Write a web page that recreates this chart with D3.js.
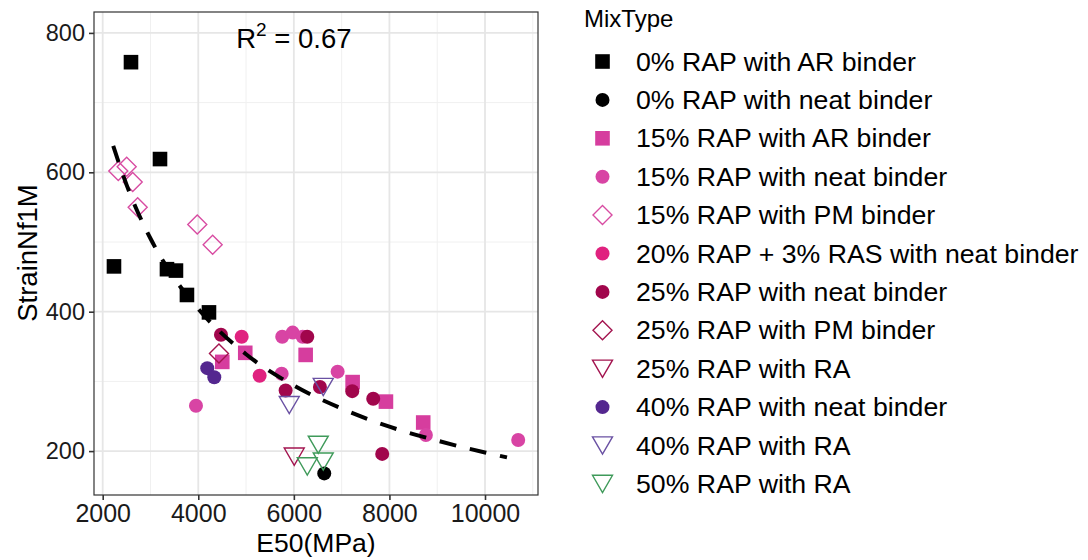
<!DOCTYPE html>
<html>
<head>
<meta charset="utf-8">
<script src="https://cdn.jsdelivr.net/npm/d3@7"></script>
<style>
  body { margin: 0; background: #fff; }
  text { font-family: "Liberation Sans", Arial, sans-serif; }
</style>
</head>
<body>
<svg id="chart" width="1088" height="560"></svg>
<script>
// ---- Data ----
const mixTypes = [
  "0% RAP with AR binder",
  "0% RAP with neat binder",
  "15% RAP with AR binder",
  "15% RAP with neat binder",
  "15% RAP with PM binder",
  "20% RAP + 3% RAS with neat binder",
  "25% RAP with neat binder",
  "25% RAP with PM binder",
  "25% RAP with RA",
  "40% RAP with neat binder",
  "40% RAP with RA",
  "50% RAP with RA"
];
const mixColors = ["#000000", "#000000", "#d63d9e", "#d844a4", "#d84ca2", "#e0227f",
                   "#a1064c", "#a3144f", "#a3144f", "#54278f", "#6a51a3", "#3f9a5a"];
const mixShapes = ["square", "circle", "square", "circle", "diamond", "circle",
                   "circle", "diamond", "triangle", "circle", "triangle", "triangle"];

const e50_0AR     = [2592, 3199, 2236, 3345, 3533, 3763, 4224];
const nf_0AR      = [758, 619, 465, 461, 459, 424, 399];
const e50_0neat   = [6636];
const nf_0neat    = [168];
const e50_15AR    = [4502, 4983, 6247, 7230, 7927, 8707];
const nf_15AR     = [328, 341, 338, 299, 271, 241];
const e50_15neat  = [3952, 5757, 5975, 6184, 5745, 6916, 8763, 10695];
const nf_15neat   = [265, 364, 370, 364, 311, 314, 223, 216];
const e50_15PM    = [2326, 2502, 2628, 2732, 3979, 4301];
const nf_15PM     = [602, 608, 586, 550, 525, 496];
const e50_20RAS   = [4908, 5284];
const nf_20RAS    = [364, 308];
const e50_25neat  = [4475, 5828, 6546, 6281, 7222, 7661, 7849];
const nf_25neat   = [367, 287, 292, 364, 286, 275, 196];
const e50_25PM    = [4433];
const nf_25PM     = [340];
const e50_25RA    = [6008];
const nf_25RA     = [192];
const e50_40neat  = [4188, 4335];
const nf_40neat   = [319, 306];
const e50_40RA    = [5904, 6615];
const nf_40RA     = [266, 292];
const e50_50RA    = [6511, 6281, 6615];
const nf_50RA     = [209, 178, 185];

// power-law trend line
const fitE50 = [2220, 2500, 3000, 3500, 4000, 5000, 6000, 7000, 8000, 9000, 10000, 10460];
const fitNf  = [638, 582, 505, 448, 404, 339, 294, 261, 235, 215, 198, 191];

const xTicks = [2000, 4000, 6000, 8000, 10000];
const xMinor = [3000, 5000, 7000, 9000, 11000];
const yTicks = [200, 400, 600, 800];
const yMinor = [300, 500, 700];

const seriesX = [e50_0AR, e50_0neat, e50_15AR, e50_15neat, e50_15PM, e50_20RAS,
                 e50_25neat, e50_25PM, e50_25RA, e50_40neat, e50_40RA, e50_50RA];
const seriesY = [nf_0AR, nf_0neat, nf_15AR, nf_15neat, nf_15PM, nf_20RAS,
                 nf_25neat, nf_25PM, nf_25RA, nf_40neat, nf_40RA, nf_50RA];

// ---- Layout ----
const svg = d3.select("#chart");
const P = { left: 94, right: 538, top: 12, bottom: 495 };
const x = d3.scaleLinear().domain([1818, 11109]).range([P.left, P.right]);
const y = d3.scaleLinear().domain([137, 830]).range([P.bottom, P.top]);

// panel grid
const grid = svg.append("g");
grid.selectAll(".vminor").data(xMinor.filter(v => x(v) < P.right)).enter().append("line")
  .attr("x1", d => x(d)).attr("x2", d => x(d)).attr("y1", P.top).attr("y2", P.bottom)
  .attr("stroke", "#f0f0f0").attr("stroke-width", 1);
grid.selectAll(".hminor").data(yMinor).enter().append("line")
  .attr("y1", d => y(d)).attr("y2", d => y(d)).attr("x1", P.left).attr("x2", P.right)
  .attr("stroke", "#f0f0f0").attr("stroke-width", 1);
grid.selectAll(".vmajor").data(xTicks).enter().append("line")
  .attr("x1", d => x(d)).attr("x2", d => x(d)).attr("y1", P.top).attr("y2", P.bottom)
  .attr("stroke", "#e6e6e6").attr("stroke-width", 1.8);
grid.selectAll(".hmajor").data(yTicks).enter().append("line")
  .attr("y1", d => y(d)).attr("y2", d => y(d)).attr("x1", P.left).attr("x2", P.right)
  .attr("stroke", "#e6e6e6").attr("stroke-width", 1.8);

// shapes
function shapePath(shape) {
  const p = d3.path();
  if (shape === "square") { const h = 7.3; p.rect(-h, -h, 2*h, 2*h); }
  else if (shape === "circle") { p.arc(0, 0, 7, 0, 2*Math.PI); }
  else if (shape === "diamond") { const h = 9.5; p.moveTo(0,-h); p.lineTo(h,0); p.lineTo(0,h); p.lineTo(-h,0); p.closePath(); }
  else if (shape === "triangle") { const w = 10, h = 8.6; p.moveTo(-w,-h); p.lineTo(w,-h); p.lineTo(0,h); p.closePath(); }
  return p.toString();
}
function styleMark(sel, i) {
  const open = mixShapes[i] === "diamond" || mixShapes[i] === "triangle";
  sel.attr("d", shapePath(mixShapes[i]))
    .attr("fill", open ? "none" : mixColors[i])
    .attr("stroke", open ? mixColors[i] : "none")
    .attr("stroke-width", open ? 1.4 : 0);
}

// points
const pts = svg.append("g");
seriesX.forEach((xs, i) => {
  const data = xs.map((v, j) => ({ x: v, y: seriesY[i][j] }));
  pts.selectAll(null).data(data).enter().append("path")
    .attr("transform", d => `translate(${x(d.x)},${y(d.y)})`)
    .call(styleMark, i);
});

// trend line
const fitData = fitE50.map((v, i) => ({ x: v, y: fitNf[i] }));
svg.append("path").datum(fitData)
  .attr("d", d3.line().x(d => x(d.x)).y(d => y(d.y)).curve(d3.curveMonotoneX))
  .attr("fill", "none").attr("stroke", "#000").attr("stroke-width", 4)
  .attr("stroke-dasharray", "17,14");

// panel border
svg.append("rect").attr("x", P.left).attr("y", P.top)
  .attr("width", P.right - P.left).attr("height", P.bottom - P.top)
  .attr("fill", "none").attr("stroke", "#333").attr("stroke-width", 1.2);

// axes
const xAxis = svg.append("g").attr("transform", `translate(0,${P.bottom})`)
  .call(d3.axisBottom(x).tickValues(xTicks).tickSize(5).tickPadding(4).tickFormat(d3.format("d")));
const yAxis = svg.append("g").attr("transform", `translate(${P.left},0)`)
  .call(d3.axisLeft(y).tickValues(yTicks).tickSize(5).tickPadding(4));
[xAxis, yAxis].forEach(a => {
  a.select(".domain").remove();
  a.selectAll(".tick line").attr("stroke", "#333").attr("stroke-width", 1.6);
  a.selectAll(".tick text").attr("fill", "#1a1a1a")
    .style("font-family", "'Liberation Sans', Arial, sans-serif");
});
xAxis.selectAll(".tick text").style("font-size", "25px");
yAxis.selectAll(".tick text").style("font-size", "23.5px");

// axis titles
svg.append("text").attr("x", 316).attr("y", 552).attr("text-anchor", "middle")
  .style("font-size", "26.5px").attr("fill", "#000").text("E50(MPa)");
svg.append("text").attr("transform", "translate(37,253) rotate(-90)").attr("text-anchor", "middle")
  .style("font-size", "27.5px").attr("fill", "#000").text("StrainNf1M");

// R^2 annotation
const r2 = svg.append("text").attr("x", x(6000)).attr("y", 48).attr("text-anchor", "middle")
  .style("font-size", "27.5px").attr("fill", "#000");
r2.append("tspan").text("R");
r2.append("tspan").attr("dy", -12).style("font-size", "19px").text("2");
r2.append("tspan").attr("dy", 12).text(" = 0.67");

// legend
const leg = svg.append("g");
leg.append("text").attr("x", 584).attr("y", 27).style("font-size", "24px").attr("fill", "#000").text("MixType");
const rowY = i => 61.5 + i * 38.4;
mixTypes.forEach((name, i) => {
  leg.append("path").attr("transform", `translate(602.5,${rowY(i)})`).call(styleMark, i);
  leg.append("text").attr("transform", `translate(636,${rowY(i)}) scale(1.06,1)`).attr("dy", "0.36em")
    .style("font-size", "25.2px").attr("fill", "#000").text(name);
});
</script>
</body>
</html>
